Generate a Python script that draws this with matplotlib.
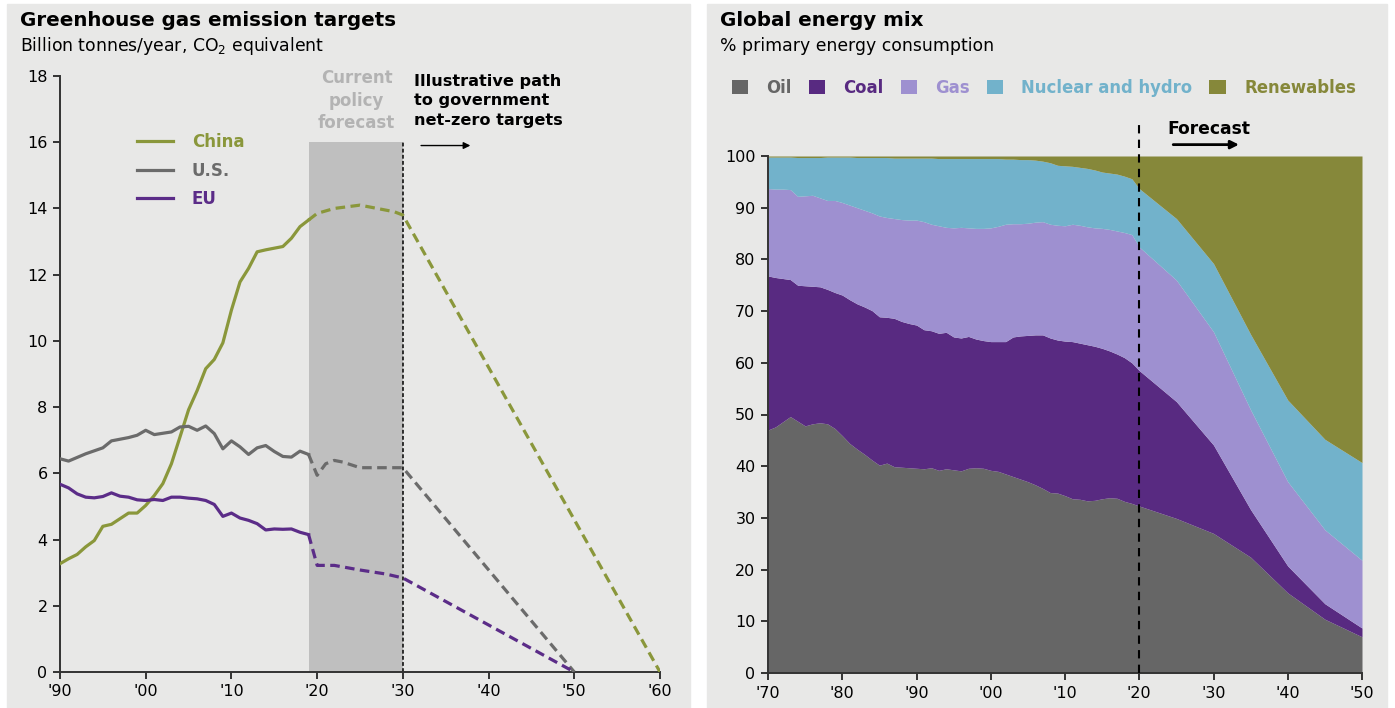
import numpy as np
import matplotlib
matplotlib.use("Agg")
from matplotlib import pyplot as plt
from matplotlib.patches import Rectangle, Patch

plt.rcParams['font.family'] = ['DejaVu Sans']

# ---- left chart data: emissions, billion tonnes CO2e ----
hist_years = list(range(1990, 2020))
china_hist = [3.27, 3.42, 3.55, 3.78, 3.97, 4.4, 4.46, 4.63, 4.8, 4.8,
              5.03, 5.33, 5.69, 6.29, 7.1, 7.92, 8.5, 9.16, 9.44, 9.94,
              10.93, 11.78, 12.19, 12.69, 12.75, 12.8, 12.85, 13.1, 13.45, 13.65]
us_hist = [6.44, 6.37, 6.48, 6.59, 6.68, 6.77, 6.98, 7.03, 7.08, 7.15,
           7.3, 7.17, 7.21, 7.25, 7.4, 7.42, 7.3, 7.43, 7.2, 6.74,
           6.98, 6.8, 6.57, 6.77, 6.84, 6.66, 6.51, 6.49, 6.67, 6.57]
eu_hist = [5.67, 5.56, 5.38, 5.28, 5.26, 5.3, 5.41, 5.31, 5.28, 5.2,
           5.18, 5.21, 5.18, 5.28, 5.28, 5.25, 5.23, 5.18, 5.06, 4.7,
           4.8, 4.65, 4.58, 4.48, 4.29, 4.32, 4.31, 4.32, 4.22, 4.15]

china_fc_years = [2019, 2020, 2022, 2025, 2027, 2029, 2030, 2060]
china_fc = [13.65, 13.85, 14.0, 14.1, 14.0, 13.9, 13.8, 0.0]
us_fc_years = [2019, 2020, 2021, 2022, 2023, 2025, 2027, 2030, 2050]
us_fc = [6.57, 5.94, 6.29, 6.39, 6.34, 6.17, 6.17, 6.17, 0.0]
eu_fc_years = [2019, 2020, 2022, 2025, 2028, 2030, 2050]
eu_fc = [4.15, 3.22, 3.22, 3.08, 2.96, 2.84, 0.0]

# ---- right chart data: cumulative share of primary energy, % ----
mix_years = list(range(1970, 2021)) + [2025, 2030, 2035, 2040, 2045, 2050]
oil_top = [47.0, 47.6, 48.6, 49.6, 48.7, 47.8, 48.2, 48.4, 48.2, 47.3,
           45.9, 44.4, 43.3, 42.3, 41.2, 40.2, 40.6, 39.9, 39.8, 39.7,
           39.6, 39.5, 39.7, 39.2, 39.5, 39.3, 39.1, 39.6, 39.7, 39.6,
           39.2, 39.0, 38.5, 38.0, 37.5, 37.0, 36.4, 35.7, 34.9, 34.8,
           34.3, 33.7, 33.6, 33.3, 33.4, 33.7, 33.9, 33.8, 33.2, 32.8,
           32.3, 29.9, 27.0, 22.4, 15.5, 10.4, 7.0]
coal_top = [76.8, 76.5, 76.3, 76.1, 75.0, 74.9, 74.8, 74.7, 74.2, 73.6,
            73.1, 72.2, 71.4, 70.8, 70.1, 68.9, 68.8, 68.6, 68.0, 67.6,
            67.3, 66.4, 66.2, 65.7, 65.9, 65.0, 64.8, 65.1, 64.6, 64.3,
            64.1, 64.1, 64.1, 65.0, 65.2, 65.3, 65.4, 65.4, 64.8, 64.4,
            64.2, 64.1, 63.8, 63.5, 63.2, 62.8, 62.3, 61.7, 61.0, 60.0,
            58.5, 52.5, 44.1, 31.6, 20.7, 13.4, 8.7]
gas_top = [93.7, 93.6, 93.6, 93.5, 92.2, 92.3, 92.4, 91.9, 91.4, 91.4,
           91.0, 90.5, 90.0, 89.5, 89.0, 88.4, 88.1, 87.9, 87.7, 87.6,
           87.6, 87.3, 86.8, 86.5, 86.2, 86.1, 86.2, 86.1, 86.0, 86.0,
           86.1, 86.4, 86.8, 86.9, 86.9, 87.0, 87.2, 87.3, 86.8, 86.6,
           86.5, 86.8, 86.6, 86.3, 86.1, 86.0, 85.8, 85.5, 85.2, 84.8,
           82.4, 76.0, 66.0, 50.9, 37.0, 27.7, 21.8]
nuclear_top = [99.8, 99.8, 99.8, 99.8, 99.7, 99.7, 99.7, 99.7, 99.8, 99.8,
               99.8, 99.8, 99.7, 99.7, 99.7, 99.7, 99.7, 99.6, 99.6, 99.6,
               99.6, 99.6, 99.6, 99.5, 99.5, 99.5, 99.5, 99.5, 99.5, 99.5,
               99.5, 99.5, 99.4, 99.4, 99.3, 99.3, 99.2, 99.0, 98.7, 98.2,
               98.1, 98.0, 97.8, 97.6, 97.3, 96.9, 96.7, 96.5, 96.1, 95.6,
               93.7, 87.9, 79.2, 65.5, 52.8, 45.2, 40.7]
total = [100.0] * len(mix_years)

mix_names = ['Oil', 'Coal', 'Gas', 'Nuclear and hydro', 'Renewables']
mix_colors = ['#666666', '#582a81', '#9e90d0', '#72b2cb', '#86883a']

china_c = '#8a973b'
us_c = '#6b6b6b'
eu_c = '#5b2c88'
bg = '#e8e8e7'
spine_c = '#333333'

fig = plt.figure(figsize=(13.95, 7.08), dpi=100)
fig.patches.append(Rectangle((7 / 1395, 0), 683 / 1395, 704 / 708,
                             transform=fig.transFigure, color=bg, zorder=-10))
fig.patches.append(Rectangle((707 / 1395, 0), 680 / 1395, 704 / 708,
                             transform=fig.transFigure, color=bg, zorder=-10))

# ================= left panel =================
ax = fig.add_axes([60 / 1395, 36 / 708, 600 / 1395, 596 / 708])
ax.set_facecolor('none')
ax.axvspan(2019, 2030, ymin=0, ymax=16 / 18, color='#bfbfbf', lw=0, zorder=0)
ax.vlines(2030, 0, 16, colors='black', linestyles=(0, (2.5, 1.5)), lw=1.1, zorder=1)

lw = 2.3
dash = (0, (3, 1.7))
ax.plot(hist_years, china_hist, color=china_c, lw=lw, label='China', zorder=3)
ax.plot(hist_years, us_hist, color=us_c, lw=lw, label='U.S.', zorder=3)
ax.plot(hist_years, eu_hist, color=eu_c, lw=lw, label='EU', zorder=3)
ax.plot(china_fc_years, china_fc, color=china_c, lw=lw, ls=dash, zorder=3)
ax.plot(us_fc_years, us_fc, color=us_c, lw=lw, ls=dash, zorder=3)
ax.plot(eu_fc_years, eu_fc, color=eu_c, lw=lw, ls=dash, zorder=3)

ax.set_xlim(1990, 2060)
ax.set_ylim(0, 18)
ax.set_xticks(range(1990, 2061, 10))
ax.set_xticklabels(["'90", "'00", "'10", "'20", "'30", "'40", "'50", "'60"])
ax.set_yticks(range(0, 19, 2))
for s in ['top', 'right']:
    ax.spines[s].set_visible(False)
for s in ['left', 'bottom']:
    ax.spines[s].set_color(spine_c)
    ax.spines[s].set_linewidth(1.4)
ax.tick_params(colors=spine_c, width=1.4, length=5, labelsize=11.5, labelcolor='black', pad=4)

ax.legend(loc='upper left', bbox_to_anchor=(0.128, 0.904), frameon=False,
          handlelength=2.15, handletextpad=1.15, labelspacing=0.63,
          borderpad=0, borderaxespad=0,
          prop={'weight': 'bold', 'size': 12}, labelcolor='linecolor')

ax.text(2024.6, 17.25, 'Current\npolicy\nforecast', ha='center', va='center',
        color='#b3b3b3', fontsize=12, fontweight='bold', linespacing=1.32)
ax.text(2031.3, 17.25, 'Illustrative path\nto government\nnet-zero targets', ha='left',
        va='center', color='black', fontsize=11.6, fontweight='bold', linespacing=1.36)
ax.annotate('', xy=(2038.2, 15.9), xytext=(2031.8, 15.9),
            arrowprops=dict(arrowstyle='-|>', color='black', lw=1.0, mutation_scale=10))

fig.text(20 / 1395, 1 - 21 / 708, 'Greenhouse gas emission targets', fontsize=14.3,
         fontweight='bold', va='center')
fig.text(20 / 1395, 1 - 46 / 708, 'Billion tonnes/year, CO$_2$ equivalent', fontsize=12.4,
         va='center')

# ================= right panel =================
ax2 = fig.add_axes([768 / 1395, 35 / 708, 594 / 1395, 517 / 708])
ax2.set_facecolor('none')
layers = [np.zeros(len(mix_years)), oil_top, coal_top, gas_top, nuclear_top, total]
for i in range(5):
    ax2.fill_between(mix_years, layers[i], layers[i + 1], color=mix_colors[i], lw=0, zorder=1)

ax2.set_xlim(1970, 2050)
ax2.set_ylim(0, 100)
ax2.set_xticks(range(1970, 2051, 10))
ax2.set_xticklabels(["'70", "'80", "'90", "'00", "'10", "'20", "'30", "'40", "'50"])
ax2.set_yticks(range(0, 101, 10))
for s in ['top', 'right']:
    ax2.spines[s].set_visible(False)
for s in ['left', 'bottom']:
    ax2.spines[s].set_color(spine_c)
    ax2.spines[s].set_linewidth(1.4)
    ax2.spines[s].set_zorder(3)
ax2.tick_params(colors=spine_c, width=1.4, length=5, labelsize=11.5, labelcolor='black', pad=4)

ax2.vlines(2020, 0, 106.5, colors='black', linestyles=(0, (4, 3)), lw=1.5,
           zorder=4, clip_on=False)
ax2.text(2023.8, 105.3, 'Forecast', ha='left', va='center', fontsize=12.3,
         fontweight='bold', color='black')
ax2.annotate('', xy=(2033.8, 102.2), xytext=(2024.2, 102.2), annotation_clip=False,
             arrowprops=dict(arrowstyle='-|>', color='black', lw=2.0, mutation_scale=12))

handles = [Patch(facecolor=c, edgecolor='none') for c in mix_colors]
ax2.legend(handles, mix_names, loc='center left', bbox_to_anchor=(-0.061, 1.132),
           ncol=5, frameon=False, handlelength=1.0, handleheight=1.0,
           handletextpad=1.1, columnspacing=1.02, borderpad=0, borderaxespad=0,
           prop={'weight': 'bold', 'size': 11.9}, labelcolor=mix_colors)

fig.text(720 / 1395, 1 - 21 / 708, 'Global energy mix', fontsize=14.3,
         fontweight='bold', va='center')
fig.text(720 / 1395, 1 - 46 / 708, '% primary energy consumption', fontsize=12.4,
         va='center')

fig.savefig('out.png', dpi=100)
